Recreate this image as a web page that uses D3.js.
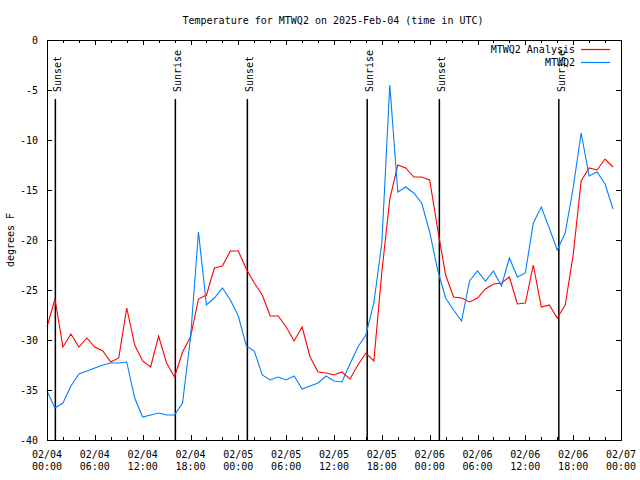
<!DOCTYPE html>
<html><head><meta charset="utf-8">
<script src="https://cdn.jsdelivr.net/npm/d3@7"></script>
<style>
html,body{margin:0;padding:0;background:#fff;}
svg text{font-family:"DejaVu Sans Mono","Liberation Mono",monospace;font-size:10px;fill:#000;}
</style></head>
<body><svg id="chart" width="640" height="480"></svg>
<script>
// ---- data ----
const startTime = "2025-02-04T00:00:00Z";
// hourly values, hour 0 .. 71
const analysisValues = [
 -28.7,-25.9,-30.7,-29.4,-30.7,-29.8,-30.7,-31.1,-32.2,-31.8,
 -26.8,-30.5,-32.1,-32.7,-29.6,-32.3,-33.7,-31.2,-29.7,-25.9,
 -25.5,-22.8,-22.6,-21.1,-21.1,-22.9,-24.3,-25.5,-27.6,-27.6,
 -28.7,-30.1,-28.7,-31.7,-33.2,-33.3,-33.5,-33.2,-33.9,-32.5,
 -31.3,-32.1,-23.2,-15.9,-12.5,-12.8,-13.7,-13.7,-14.0,-18.9,
 -23.5,-25.7,-25.8,-26.2,-25.8,-24.9,-24.4,-24.3,-23.7,-26.4,
 -26.3,-22.5,-26.7,-26.5,-27.8,-26.5,-21.5,-14.1,-12.8,-13.0,
 -11.9,-12.7];
const stationValues = [
 -35.1,-36.8,-36.3,-34.6,-33.4,-33.1,-32.8,-32.5,-32.3,-32.3,
 -32.2,-35.8,-37.7,-37.5,-37.3,-37.5,-37.5,-36.3,-29.8,-19.2,
 -26.5,-25.8,-24.8,-26.0,-27.6,-30.6,-31.1,-33.5,-34.0,-33.7,
 -34.0,-33.6,-34.9,-34.6,-34.3,-33.6,-34.1,-34.2,-32.4,-30.7,
 -29.5,-26.3,-20.3,-4.5,-15.2,-14.7,-15.3,-16.3,-19.2,-23.0,
 -25.8,-27.0,-28.1,-24.1,-23.1,-24.1,-23.1,-24.6,-21.8,-23.7,
 -23.3,-18.3,-16.7,-18.8,-21.0,-19.3,-14.8,-9.3,-13.6,-13.2,
 -14.4,-16.9];
const sunEventLabels = ["Sunset","Sunrise","Sunset","Sunrise","Sunset","Sunrise"];
const sunEventTimes = ["2025-02-04T01:03:00Z","2025-02-04T16:06:00Z","2025-02-05T01:08:00Z",
                       "2025-02-05T16:10:00Z","2025-02-06T01:13:00Z","2025-02-06T16:12:00Z"];
const yTicks = [0,-5,-10,-15,-20,-25,-30,-35,-40];
const seriesNames = ["MTWQ2 Analysis","MTWQ2"];
const seriesColors = ["#ff0000","#0080ff"];
const titleText = "Temperature for MTWQ2 on 2025-Feb-04 (time in UTC)";
const yLabel = "degrees F";

// ---- layout ----
const svg = d3.select("#chart");
const L = 47, R = 621, T = 40, B = 440;
const t0 = new Date(startTime);
const hour = 3600*1000;
const x = d3.scaleUtc().domain([t0, new Date(+t0 + 72*hour)]).range([L, R]);
const y = d3.scaleLinear().domain([-40, 0]).range([B, T]);

const mkSeries = vals => vals.map((v,i)=>({t:new Date(+t0 + i*hour), v}));
const series = [mkSeries(analysisValues), mkSeries(stationValues)];

// title
svg.append("text").attr("x", 333).attr("y", 24).attr("text-anchor","middle").text(titleText);

// y label
svg.append("text").attr("transform","translate(14,240) rotate(-90)")
  .attr("text-anchor","middle").text(yLabel);

// ticks
const majorTicks = d3.range(0, 73, 6).map(h=>new Date(+t0 + h*hour));
const minorTicks = d3.range(0, 73, 2).filter(h=>h%6!==0).map(h=>new Date(+t0 + h*hour));
const g = svg.append("g").attr("stroke","#000").attr("stroke-width",1).attr("shape-rendering","crispEdges");
majorTicks.forEach(d=>{
  const px = Math.round(x(d))+0.5;
  g.append("line").attr("x1",px).attr("x2",px).attr("y1",B).attr("y2",B-5);
  g.append("line").attr("x1",px).attr("x2",px).attr("y1",T).attr("y2",T+5);
});
minorTicks.forEach(d=>{
  const px = Math.round(x(d))+0.5;
  g.append("line").attr("x1",px).attr("x2",px).attr("y1",B).attr("y2",B-3);
  g.append("line").attr("x1",px).attr("x2",px).attr("y1",T).attr("y2",T+3);
});
yTicks.forEach(v=>{
  const py = Math.round(y(v))+0.5;
  g.append("line").attr("x1",L).attr("x2",L+5).attr("y1",py).attr("y2",py);
  g.append("line").attr("x1",R).attr("x2",R-5).attr("y1",py).attr("y2",py);
});

// tick labels
const fmtD = d3.utcFormat("%m/%d"), fmtH = d3.utcFormat("%H:%M");
majorTicks.forEach(d=>{
  svg.append("text").attr("x",x(d)).attr("y",458).attr("text-anchor","middle").text(fmtD(d));
  svg.append("text").attr("x",x(d)).attr("y",470).attr("text-anchor","middle").text(fmtH(d));
});
yTicks.forEach(v=>{
  svg.append("text").attr("x",38).attr("y",y(v)+3.5).attr("text-anchor","end").text(v);
});

// sun event lines
sunEventTimes.forEach((s,i)=>{
  const px = x(new Date(s));
  svg.append("line").attr("x1",px).attr("x2",px).attr("y1",99).attr("y2",B)
    .attr("stroke","#000").attr("stroke-width",1.5);
  svg.append("text").attr("transform",`translate(${px+6},92) rotate(-90)`)
    .attr("text-anchor","start").text(sunEventLabels[i]);
});

// lines
const line = d3.line().x(d=>x(d.t)).y(d=>y(d.v));
series.forEach((s,i)=>{
  svg.append("path").datum(s).attr("d",line).attr("fill","none")
    .attr("stroke",seriesColors[i]).attr("stroke-width",1.1);
});

// legend
seriesNames.forEach((n,i)=>{
  const ly = 49 + i*13;
  svg.append("text").attr("x",575).attr("y",ly+4).attr("text-anchor","end").text(n);
  svg.append("line").attr("x1",581).attr("x2",610).attr("y1",ly+0.5).attr("y2",ly+0.5)
    .attr("stroke",seriesColors[i]).attr("stroke-width",1.2);
});

// frame
svg.append("rect").attr("x",L+0.5).attr("y",T+0.5).attr("width",R-L).attr("height",B-T)
  .attr("fill","none").attr("stroke","#000").attr("stroke-width",1).attr("shape-rendering","crispEdges");
</script></body></html>
